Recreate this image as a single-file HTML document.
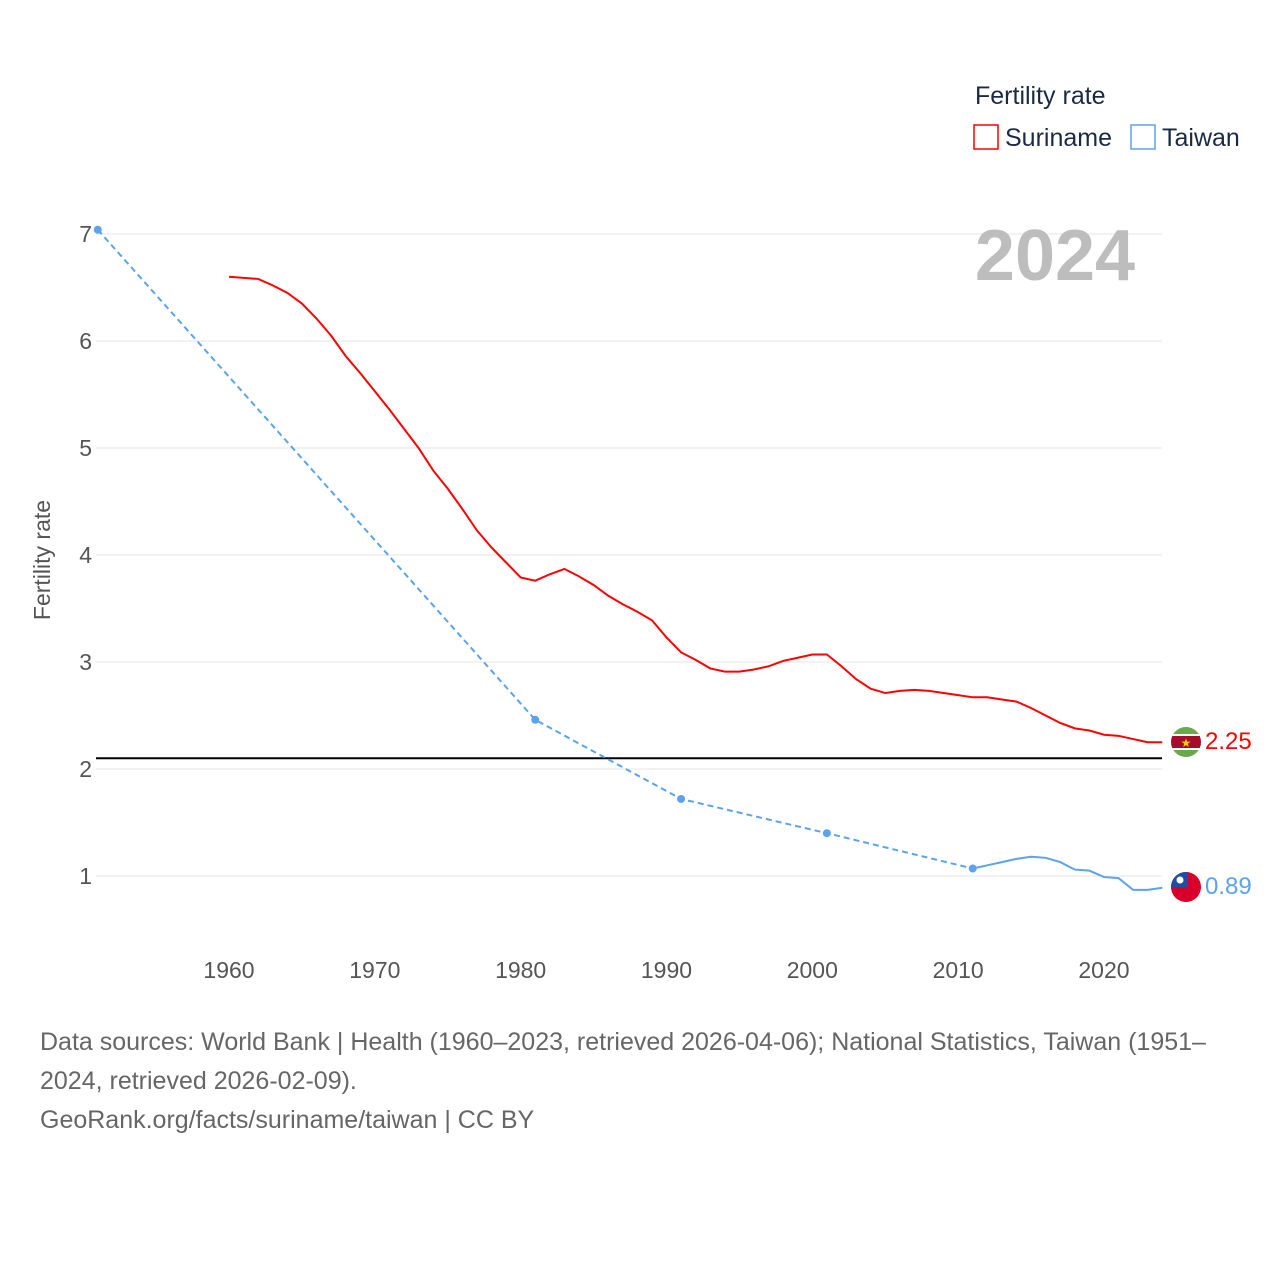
<!DOCTYPE html>
<html><head><meta charset="utf-8"><style>
body{margin:0;background:#fff;font-family:"Liberation Sans",sans-serif}
svg text{font-family:"Liberation Sans",sans-serif}
</style></head><body>
<svg id="c" width="1280" height="1280" xmlns="http://www.w3.org/2000/svg">
<defs>
<clipPath id="cs"><circle cx="1186" cy="742" r="15"/></clipPath>
<clipPath id="ct"><circle cx="1186" cy="887" r="15"/></clipPath>
</defs>
<g id="grid"></g>
<text x="1055" y="280" font-size="72" font-weight="bold" fill="#bdbdbd" text-anchor="middle">2024</text>
<text x="975" y="104" font-size="25" fill="#1a2a44">Fertility rate</text>
<g><rect x="974" y="125" width="24" height="24" fill="none" stroke="#f00" stroke-width="1.5"/><text x="1005" y="146" font-size="25" fill="#1a2a44">Suriname</text></g>
<g><rect x="1131" y="125" width="24" height="24" fill="none" stroke="#5ba3ec" stroke-width="1.5"/><text x="1162" y="146" font-size="25" fill="#1a2a44">Taiwan</text></g>
<text transform="translate(50,560) rotate(-90)" font-size="23" fill="#555" text-anchor="middle">Fertility rate</text>
<g id="marks"></g>
<g clip-path="url(#cs)"><rect x="1170" y="726" width="32" height="32" fill="#6aa84f"/><rect x="1170" y="734" width="32" height="16" fill="#fff"/><rect x="1170" y="736" width="32" height="12" fill="#a50d2a"/><text x="1186" y="747" font-size="12" fill="#f5d000" text-anchor="middle">★</text></g>
<g clip-path="url(#ct)"><rect x="1170" y="871" width="32" height="32" fill="#d8002a"/><rect x="1170" y="871" width="18" height="16" fill="#1e4ea8"/><circle cx="1180" cy="880" r="3.5" fill="#fff"/></g>
<text x="1205" y="749" font-size="24" fill="#f00">2.25</text>
<text x="1205" y="894" font-size="24" fill="#5ba3ec">0.89</text>
<text x="40" y="1050" font-size="25" fill="#666">Data sources: World Bank | Health (1960–2023, retrieved 2026-04-06); National Statistics, Taiwan (1951–</text>
<text x="40" y="1089" font-size="25" fill="#666">2024, retrieved 2026-02-09).</text>
<text x="40" y="1128" font-size="25" fill="#666">GeoRank.org/facts/suriname/taiwan | CC BY</text>
</svg>
<script>
const yTicks=[1,2,3,4,5,6,7];
const xTicks=[1960,1970,1980,1990,2000,2010,2020];
const surYears=[1960,1962,1963,1964,1965,1966,1967,1968,1969,1970,1971,1972,1973,1974,1975,1976,1977,1978,1979,1980,1981,1982,1983,1984,1985,1986,1987,1988,1989,1990,1991,1992,1993,1994,1995,1996,1997,1998,1999,2000,2001,2002,2003,2004,2005,2006,2007,2008,2009,2010,2011,2012,2013,2014,2015,2016,2017,2018,2019,2020,2021,2022,2023,2024];
const surVals=[6.60,6.58,6.52,6.45,6.35,6.21,6.05,5.86,5.70,5.53,5.36,5.18,5.00,4.79,4.62,4.43,4.23,4.07,3.93,3.79,3.76,3.82,3.87,3.80,3.72,3.62,3.54,3.47,3.39,3.23,3.09,3.02,2.94,2.91,2.91,2.93,2.96,3.01,3.04,3.07,3.07,2.96,2.84,2.75,2.71,2.73,2.74,2.73,2.71,2.69,2.67,2.67,2.65,2.63,2.57,2.50,2.43,2.38,2.36,2.32,2.31,2.28,2.25,2.25];
const twSparseYears=[1951,1981,1991,2001,2011];
const twSparseVals=[7.04,2.46,1.72,1.40,1.07];
const twYears=[2011,2012,2013,2014,2015,2016,2017,2018,2019,2020,2021,2022,2023,2024];
const twVals=[1.07,1.10,1.13,1.16,1.18,1.17,1.13,1.06,1.05,0.99,0.98,0.87,0.87,0.89];
const replacement=2.1;
const X=y=>229+(y-1960)*14.583, Y=v=>983-v*107;
const NS="http://www.w3.org/2000/svg";
function mk(t,a,p){const e=document.createElementNS(NS,t);for(const k in a)e.setAttribute(k,a[k]);p.appendChild(e);return e;}
const g=document.getElementById('grid'),m=document.getElementById('marks');
yTicks.forEach(v=>{
 const l=mk('line',{x1:96,x2:1162,y1:Y(v),y2:Y(v),stroke:'#e6e6e6'},g);
 
 
 const t=mk('text',{x:92,y:Y(v)+8,'font-size':23,fill:'#555','text-anchor':'end'},g);t.textContent=v;
 
 
});
xTicks.forEach(v=>{
 const t=mk('text',{x:X(v),y:978,'font-size':23,fill:'#555','text-anchor':'middle'},g);t.textContent=v;
 
 
});
const rl=mk('line',{x1:96,x2:1162,y1:Y(replacement),y2:Y(replacement),stroke:'#000','stroke-width':2},m);


const pts=(ys,vs)=>ys.map((y,i)=>X(y)+','+Y(vs[i])).join(' ');
const s=mk('polyline',{points:pts(surYears,surVals),fill:'none',stroke:'#f00','stroke-width':2},m);


const d=mk('polyline',{points:pts(twSparseYears,twSparseVals),fill:'none',stroke:'#5ba3ec','stroke-width':2,'stroke-dasharray':'6,4'},m);


const t2=mk('polyline',{points:pts(twYears,twVals),fill:'none',stroke:'#5ba3ec','stroke-width':2},m);


twSparseYears.forEach((y,i)=>{
 const c=mk('circle',{cx:X(y),cy:Y(twSparseVals[i]),r:4,fill:'#5ba3ec'},m);
 
 
});
</script>
</body></html>
